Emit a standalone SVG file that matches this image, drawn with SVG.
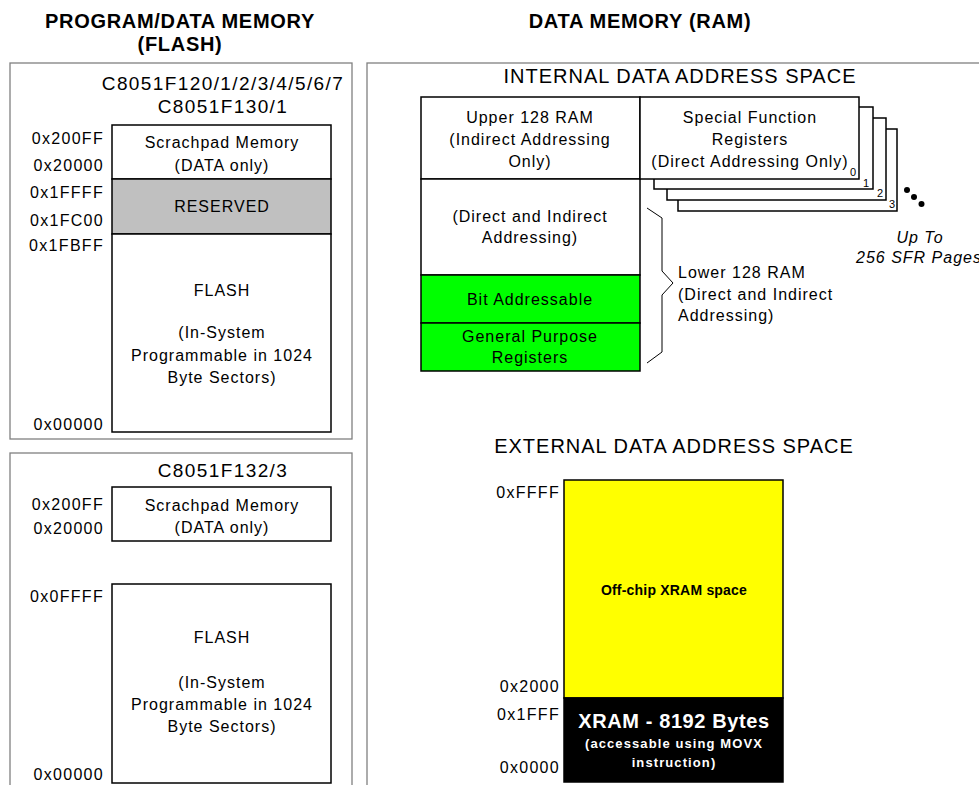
<svg xmlns="http://www.w3.org/2000/svg" width="979" height="785" viewBox="0 0 979 785">
<style>
text{font-family:"Liberation Sans",Arial,sans-serif;fill:#000}
.t{font-size:16px;letter-spacing:1px;text-anchor:middle}
.a{font-size:16px;letter-spacing:1.3px;text-anchor:end}
.h{font-size:20px;font-weight:bold;letter-spacing:0.7px;text-anchor:middle}
.s{font-size:20px;letter-spacing:1px;text-anchor:middle}
.p{fill:none;stroke:#808080;stroke-width:1.3}
.b{fill:#fff;stroke:#000;stroke-width:1.5}
.n{font-size:11px;text-anchor:middle}
</style>
<rect width="979" height="785" fill="#fff"/>

<g id="titles">
<text class="h" x="180" y="28">PROGRAM/DATA MEMORY</text>
<text class="h" x="180" y="51">(FLASH)</text>
<text class="h" x="640" y="28">DATA MEMORY (RAM)</text>
</g>

<g id="flash-panel-1">
<rect class="p" x="10" y="63" width="342" height="376"/>
<text class="s" x="223" y="90" style="font-size:19px;letter-spacing:1.4px">C8051F120/1/2/3/4/5/6/7</text>
<text class="s" x="223" y="113" style="font-size:19px;letter-spacing:1.4px">C8051F130/1</text>
<rect class="b" x="112" y="125" width="219" height="54"/>
<rect class="b" x="112" y="179" width="219" height="55" fill="#c0c0c0" style="fill:#c0c0c0"/>
<rect class="b" x="112" y="234" width="219" height="198"/>
<text class="t" x="222" y="148">Scrachpad Memory</text>
<text class="t" x="222" y="171">(DATA only)</text>
<text class="t" x="222" y="212">RESERVED</text>
<text class="t" x="222" y="296">FLASH</text>
<text class="t" x="222" y="338">(In-System</text>
<text class="t" x="222" y="361">Programmable in 1024</text>
<text class="t" x="222" y="383">Byte Sectors)</text>
<text class="a" x="104" y="144">0x200FF</text>
<text class="a" x="104" y="171">0x20000</text>
<text class="a" x="104" y="198">0x1FFFF</text>
<text class="a" x="104" y="226">0x1FC00</text>
<text class="a" x="104" y="251">0x1FBFF</text>
<text class="a" x="104" y="430">0x00000</text>
</g>

<g id="flash-panel-2">
<rect class="p" x="10" y="453" width="342" height="360"/>
<text class="s" x="223" y="477" style="font-size:19px;letter-spacing:1.4px">C8051F132/3</text>
<rect class="b" x="112" y="487" width="219" height="54"/>
<rect class="b" x="112" y="584" width="219" height="199"/>
<text class="t" x="222" y="511">Scrachpad Memory</text>
<text class="t" x="222" y="533">(DATA only)</text>
<text class="t" x="222" y="643">FLASH</text>
<text class="t" x="222" y="688">(In-System</text>
<text class="t" x="222" y="710">Programmable in 1024</text>
<text class="t" x="222" y="732">Byte Sectors)</text>
<text class="a" x="104" y="510">0x200FF</text>
<text class="a" x="104" y="534">0x20000</text>
<text class="a" x="104" y="602">0x0FFFF</text>
<text class="a" x="104" y="780">0x00000</text>
</g>

<g id="ram-panel">
<rect class="p" x="367" y="63" width="700" height="800"/>
<text class="s" x="680" y="83">INTERNAL DATA  ADDRESS SPACE</text>
<text class="s" x="674" y="453">EXTERNAL DATA ADDRESS SPACE</text>
</g>

<g id="internal-ram">
<rect class="b" x="421" y="97" width="219" height="82"/>
<rect class="b" x="421" y="179" width="219" height="96"/>
<rect class="b" x="421" y="275" width="219" height="48" style="fill:#00ff00"/>
<rect class="b" x="421" y="323" width="219" height="48" style="fill:#00ff00"/>
<text class="t" x="530" y="123">Upper 128 RAM</text>
<text class="t" x="530" y="145">(Indirect Addressing</text>
<text class="t" x="530" y="167">Only)</text>
<text class="t" x="530" y="222">(Direct and Indirect</text>
<text class="t" x="530" y="243">Addressing)</text>
<text class="t" x="530" y="305">Bit Addressable</text>
<text class="t" x="530" y="342">General Purpose</text>
<text class="t" x="530" y="363">Registers</text>
</g>

<g id="sfr-pages">
<rect class="b" x="678" y="129" width="219" height="82"/>
<rect class="b" x="667" y="118" width="219" height="82"/>
<rect class="b" x="654" y="107" width="219" height="82"/>
<rect class="b" x="640" y="97" width="219" height="82"/>
<text class="t" x="750" y="123">Special Function</text>
<text class="t" x="750" y="145">Registers</text>
<text class="t" x="750" y="167">(Direct Addressing Only)</text>
<text class="n" x="853" y="176">0</text>
<text class="n" x="866" y="187">1</text>
<text class="n" x="880" y="197">2</text>
<text class="n" x="892" y="208">3</text>
<circle cx="907" cy="190" r="3"/>
<circle cx="914" cy="197" r="3"/>
<circle cx="921.5" cy="204" r="3"/>
<text class="t" x="920" y="243" style="font-style:italic">Up To</text>
<text x="856" y="263" style="font-size:16px;letter-spacing:1px;font-style:italic">256 SFR Pages</text>
</g>

<g id="connectors">
<path d="M647,208 L662,218 L662,271 L673,283 L662,295 L662,352 L647,363" fill="none" stroke="#000" stroke-width="1"/>
</g>

<g id="lower-label">
<text x="678" y="278" style="font-size:16px;letter-spacing:1px">Lower 128 RAM</text>
<text x="678" y="300" style="font-size:16px;letter-spacing:1px">(Direct and Indirect</text>
<text x="678" y="321" style="font-size:16px;letter-spacing:1px">Addressing)</text>
</g>

<g id="external-ram">
<rect x="564" y="480" width="219" height="218" fill="#ffff00" stroke="#000" stroke-width="1.5"/>
<rect x="564" y="698" width="219" height="84" fill="#000" stroke="#000" stroke-width="1.5"/>
<text x="674" y="595" style="font-size:14px;font-weight:bold;letter-spacing:0.2px;text-anchor:middle">Off-chip XRAM space</text>
<text x="674" y="728" style="font-size:20px;font-weight:bold;letter-spacing:0.6px;text-anchor:middle;fill:#fff">XRAM - 8192 Bytes</text>
<text x="674" y="748" style="font-size:13px;font-weight:bold;letter-spacing:1.1px;text-anchor:middle;fill:#fff">(accessable using MOVX</text>
<text x="674" y="767" style="font-size:13px;font-weight:bold;letter-spacing:1.1px;text-anchor:middle;fill:#fff">instruction)</text>
<text class="a" x="560" y="498">0xFFFF</text>
<text class="a" x="560" y="692">0x2000</text>
<text class="a" x="560" y="720">0x1FFF</text>
<text class="a" x="560" y="773">0x0000</text>
</g>
</svg>
